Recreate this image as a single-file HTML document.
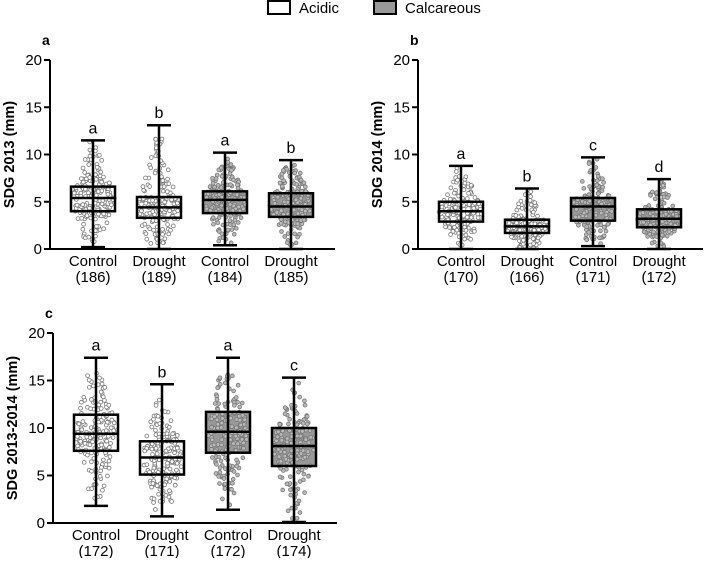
<!DOCTYPE html>
<html><head><meta charset="utf-8"><style>
body{margin:0;background:#fff}
svg{font-family:"Liberation Sans",Arial,sans-serif}
</style></head><body>
<svg id="chart" width="709" height="558" viewBox="0 0 709 558"></svg>
<script>
// Data: [min, q1, median, q3, max] for each group
const categories = ["Control","Drought","Control","Drought"];
const soils = ["Acidic","Acidic","Calcareous","Calcareous"];
const countsA = ["(186)","(189)","(184)","(185)"];
const countsB = ["(170)","(166)","(171)","(172)"];
const countsC = ["(172)","(171)","(172)","(174)"];
const statsA = [[0.2,4.0,5.4,6.6,11.5],[0,3.3,4.4,5.5,13.1],[0.4,3.8,5.2,6.1,10.2],[0,3.4,4.5,5.9,9.4]];
const statsB = [[0,2.9,4.0,5.0,8.8],[0,1.7,2.4,3.1,6.4],[0.3,3.0,4.5,5.4,9.7],[0,2.3,3.2,4.2,7.4]];
const statsC = [[1.8,7.6,9.4,11.4,17.4],[0.7,5.1,6.9,8.6,14.6],[1.4,7.4,9.6,11.7,17.4],[0.1,6.0,8.1,10.0,15.3]];
const lettersA = ["a","b","a","b"];
const lettersB = ["a","b","c","d"];
const lettersC = ["a","b","a","c"];
const yTicks = [0,5,10,15,20];

const NS="http://www.w3.org/2000/svg";
const svg=document.getElementById('chart');
function mk(tag,attrs,parent){const e=document.createElementNS(NS,tag);for(const k in attrs)e.setAttribute(k,attrs[k]);(parent||svg).appendChild(e);return e;}

// legend
const lg=mk('g',{});


const l1=mk('rect',{x:268,y:1,width:22,height:13,fill:'#fff',stroke:'#000','stroke-width':2},lg);


const t1=mk('text',{x:299,y:13,'font-size':15},lg);t1.textContent="Acidic";


const l2=mk('rect',{x:374,y:1,width:22,height:13,fill:'#999',stroke:'#000','stroke-width':2},lg);


const t2=mk('text',{x:405,y:13,'font-size':15},lg);t2.textContent="Calcareous";



let seed=7;function rnd(){seed=(seed*16807)%2147483647;return seed/2147483647;}

function panel(p){
  const g=mk('g',{});
  
  
  const y=v=>p.y0-(v/20)*(p.y0-p.y20);
  const x=i=>p.cx0+i*p.dx;
  const pl=mk('text',{x:p.ax-8,y:p.y20-15,'font-size':14,'font-weight':'bold'},g);pl.textContent=p.id;
  
  
  const ya=mk('line',{x1:p.ax,y1:p.y20,x2:p.ax,y2:p.y0,stroke:'#000','stroke-width':2},g);
  
  
  yTicks.forEach(t=>{
    mk('line',{x1:p.ax-6,y1:y(t),x2:p.ax,y2:y(t),stroke:'#000','stroke-width':2},g);
    const tx=mk('text',{x:p.ax-8,y:y(t)+5,'font-size':15,'text-anchor':'end'},g);tx.textContent=t;
    
    
  });
  const yt=mk('text',{x:0,y:0,'font-size':14.5,'font-weight':'bold','text-anchor':'middle',transform:`translate(${p.ax-36},${(p.y0+p.y20)/2}) rotate(-90)`},g);
  yt.textContent=p.title;
  
  
  p.stats.forEach((s,i)=>{
    const cx=x(i),calc=soils[i]==="Calcareous";
    const bg=mk('g',{},g);
    
    
    const hw=22;
    mk('rect',{x:cx-hw,y:y(s[3]),width:hw*2,height:y(s[1])-y(s[3]),fill:calc?'#999':'#fff',stroke:'none'},bg);
    const n=180;
    for(let k=0;k<n;k++){
      const u=rnd();let v;
      if(u<0.25)v=s[0]+(s[1]-s[0])*Math.sqrt(rnd());
      else if(u<0.5)v=s[1]+(s[2]-s[1])*rnd();
      else if(u<0.75)v=s[2]+(s[3]-s[2])*rnd();
      else v=s[3]+(s[4]-s[3])*(1-Math.sqrt(rnd()));
      const mid=(s[1]+s[3])/2,sp=(s[4]-s[0])/2||1;
      const w=Math.max(3,22*(1-Math.min(1,Math.abs(v-mid)/sp)*0.8));
      mk('circle',{cx:cx+(rnd()*2-1)*w,cy:y(v),r:1.9,fill:calc?'#bbb':'#fff',stroke:'#777','stroke-width':0.8},bg);
    }
    mk('line',{x1:cx,y1:y(s[4]),x2:cx,y2:y(s[0]),stroke:'#000','stroke-width':2.5},bg);
    mk('line',{x1:cx-12,y1:y(s[4]),x2:cx+12,y2:y(s[4]),stroke:'#000','stroke-width':2.5},bg);
    mk('line',{x1:cx-12,y1:y(s[0]),x2:cx+12,y2:y(s[0]),stroke:'#000','stroke-width':2.5},bg);
    mk('rect',{x:cx-hw,y:y(s[3]),width:hw*2,height:y(s[1])-y(s[3]),fill:'none',stroke:'#000','stroke-width':2.5},bg);
    mk('line',{x1:cx-hw,y1:y(s[2]),x2:cx+hw,y2:y(s[2]),stroke:'#000','stroke-width':2.5},bg);
    const lt=mk('text',{x:cx,y:y(s[4])-7,'font-size':16,'text-anchor':'middle'},g);lt.textContent=p.letters[i];
    
    
    const c1=mk('text',{x:cx,y:p.y0+17,'font-size':15,'text-anchor':'middle'},g);c1.textContent=categories[i];
    
    
    const c2=mk('text',{x:cx,y:p.y0+33,'font-size':15,'text-anchor':'middle'},g);c2.textContent=p.counts[i];
    
    
  });
  const xa=mk('line',{x1:p.ax,y1:p.y0,x2:p.xEnd,y2:p.y0,stroke:'#000','stroke-width':2},g);
  
  
}
panel({id:'a',ax:50,y0:249,y20:60,cx0:93,dx:66,xEnd:335,stats:statsA,letters:lettersA,counts:countsA,title:'SDG 2013 (mm)'});
panel({id:'b',ax:418,y0:249,y20:60,cx0:461,dx:66,xEnd:703,stats:statsB,letters:lettersB,counts:countsB,title:'SDG 2014 (mm)'});
panel({id:'c',ax:53,y0:523,y20:333,cx0:96,dx:66,xEnd:337,stats:statsC,letters:lettersC,counts:countsC,title:'SDG 2013-2014 (mm)'});
</script>
</body></html>
